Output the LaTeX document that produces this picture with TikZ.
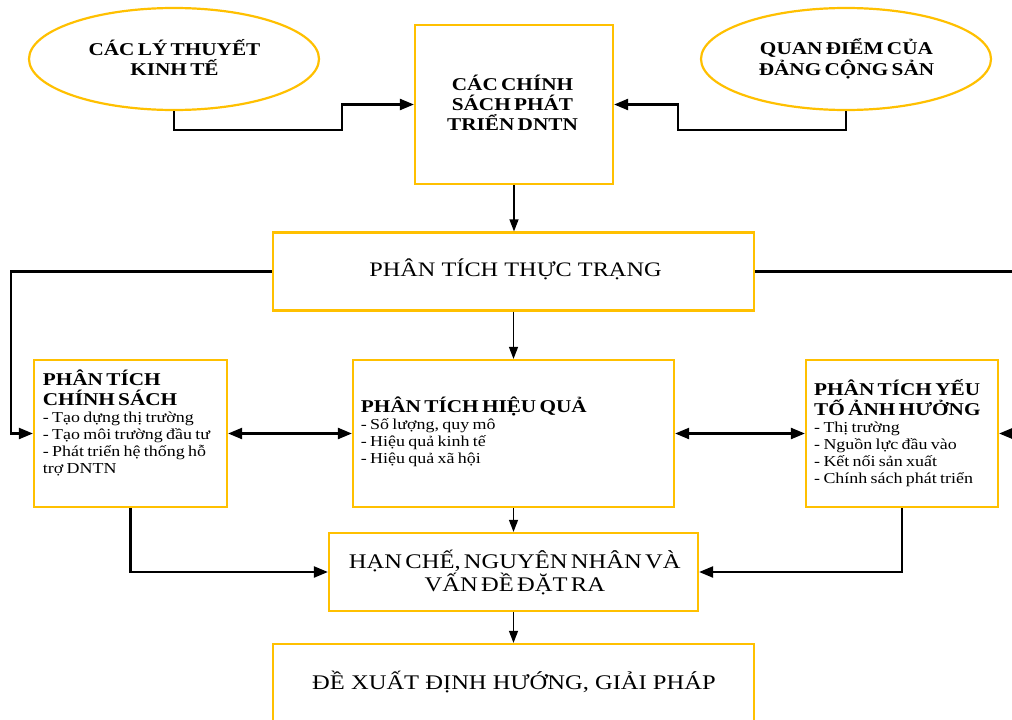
\documentclass[tikz,border=0pt]{standalone}
\usepackage{fontspec}
\setmainfont{Liberation Serif}[FakeStretch=1.18]
\usetikzlibrary{arrows.meta,shapes.geometric}
\definecolor{gold}{HTML}{FFC000}
\newcommand{\tb}{\fontsize{18}{20}\selectfont\bfseries}
\newcommand{\bl}{\fontsize{15.2}{17}\selectfont}
\lineskiplimit=-100pt
\begin{document}
\begin{tikzpicture}[x=1pt,y=-1pt,
  box/.style={draw=gold, line width=2.2pt, rectangle, inner sep=0pt},
  oval/.style={draw=gold, line width=2.2pt, ellipse, inner sep=0pt},
  conn/.style={line width=2.2pt, -{Triangle[length=14pt,width=11pt]}},
  conntwo/.style={line width=2.2pt, {Triangle[length=14pt,width=11pt]}-{Triangle[length=14pt,width=11pt]}},
  thinconn/.style={line width=1.2pt, -{Triangle[length=12pt,width=9pt]}},
  txtl/.style={inner sep=0pt, anchor=north west, align=left, text width=250pt},
  txtc/.style={inner sep=0pt, anchor=north, align=center, text width=400pt},
  txtb/.style={inner sep=0pt, anchor=base}]
\fill[white] (0,0) rectangle (1012,720);
\useasboundingbox (0,0) rectangle (1012,720);

% shapes
\node[oval, minimum width=290pt, minimum height=102pt] (L) at (174,59) {};
\node[oval, minimum width=290pt, minimum height=102pt] (R) at (846,59) {};
\node[box, minimum width=198pt, minimum height=159pt] (C) at (514,104.5) {};
\node[box, minimum width=481pt, minimum height=78pt] (P) at (513.5,271.5) {};
\node[box, minimum width=193pt, minimum height=147pt] (LB) at (130.5,433.5) {};
\node[box, minimum width=321pt, minimum height=147pt] (M) at (513.5,433.5) {};
\node[box, minimum width=192pt, minimum height=147pt] (RB) at (902,433.5) {};
\node[box, minimum width=369pt, minimum height=78pt] (H) at (513.5,572) {};
\node[box, minimum width=481pt, minimum height=78pt] (D) at (513.5,683) {};

% texts
\node[txtc] (tL) at (174.5,34.8) {\fontsize{18}{20.7}\selectfont\bfseries\rule{0pt}{20pt}CÁC LÝ THUYẾT\\ KINH TẾ\par};
\node[txtc] (tR) at (846.5,34.3) {\fontsize{18}{20.7}\selectfont\bfseries\rule{0pt}{20pt}QUAN ĐIỂM CỦA\\ ĐẢNG CỘNG SẢN\par};
\node[txtc] (tC) at (512.5,70.5) {\tb\rule{0pt}{20pt}CÁC CHÍNH\\ SÁCH PHÁT\\ TRIỂN DNTN\par};
\node[txtb] (tP) at (515.5,276) {\fontsize{20.6}{22}\selectfont PHÂN TÍCH THỰC TRẠNG};
\node[txtl] (tLB) at (42.7,365.7) {{\tb\rule{0pt}{20pt}PHÂN TÍCH\\ CHÍNH SÁCH\par}\bl
  - Tạo dựng thị trường\\ - Tạo môi trường đầu tư\\ - Phát triển hệ thống hỗ\\ trợ DNTN\par};
\node[txtl] (tM) at (360.7,392.7) {{\tb\rule{0pt}{20pt}PHÂN TÍCH HIỆU QUẢ\par}\bl
  - Số lượng, quy mô\\ - Hiệu quả kinh tế\\ - Hiệu quả xã hội\par};
\node[txtl] (tRB) at (814,375) {{\tb\rule{0pt}{20pt}PHÂN TÍCH YẾU\\ TỐ ẢNH HƯỞNG\par}\bl
  - Thị trường\\ - Nguồn lực đầu vào\\ - Kết nối sản xuất\\ - Chính sách phát triển\par};
\node[txtc] (tH) at (514.8,546) {\fontsize{20.8}{21.8}\selectfont\rule{0pt}{22pt}HẠN CHẾ, NGUYÊN NHÂN VÀ\\ VẤN ĐỀ ĐẶT RA\par};
\node[txtb] (tD) at (514,689) {\fontsize{20.8}{22}\selectfont ĐỀ XUẤT ĐỊNH HƯỚNG, GIẢI PHÁP};

% connectors
\draw[conn] (L.south) |- (342,130) |- (C.west);
\draw[conn] (R.south) |- (678,130) |- (C.east);
\draw[thinconn] (C.south) -- (C.south |- P.north);
\draw[thinconn] (P.south) -- (P.south |- M.north);
\draw[conn] (P.west) -| (11,433.5) -- (LB.west);
\draw[conn] (P.east) -| (1030,433.5) -- (RB.east);
\draw[conntwo] (LB.east) -- (M.west);
\draw[conntwo] (M.east) -- (RB.west);
\draw[conn] (LB.south) |- (H.west);
\draw[conn] (RB.south) |- (H.east);
\draw[thinconn] (M.south) -- (M.south |- H.north);
\draw[thinconn] (H.south) -- (H.south |- D.north);
\end{tikzpicture}
\end{document}
